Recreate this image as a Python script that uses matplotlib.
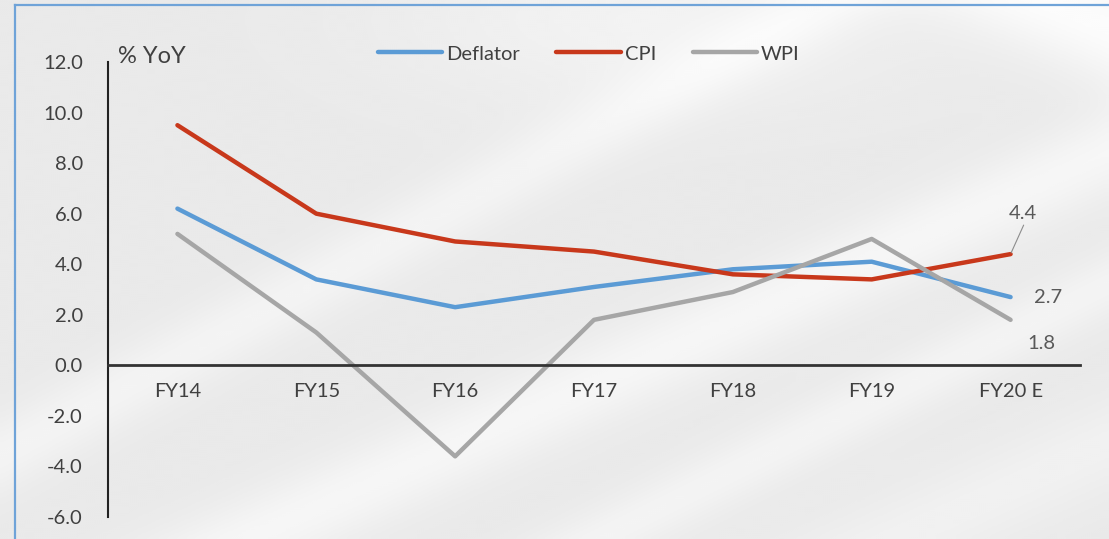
import numpy as np
import matplotlib.pyplot as plt
from matplotlib.lines import Line2D

years = ["FY14", "FY15", "FY16", "FY17", "FY18", "FY19", "FY20 E"]
deflator = [6.2, 3.4, 2.3, 3.1, 3.8, 4.1, 2.7]
cpi = [9.5, 6.0, 4.9, 4.5, 3.6, 3.4, 4.4]
wpi = [5.2, 1.3, -3.6, 1.8, 2.9, 5.0, 1.8]
yticks = [-6, -4, -2, 0, 2, 4, 6, 8, 10, 12]

plt.rcParams['font.family'] = ['Lato', 'DejaVu Sans']
TXT = '#404040'
FS = 14.5

W, H = 1109, 539
fig = plt.figure(figsize=(W / 100, H / 100), dpi=100)

# soft grey backdrop with pale diagonal sweeps
bg = fig.add_axes([0, 0, 1, 1], zorder=-10)
px, py = np.meshgrid(np.linspace(0, W, 555), np.linspace(H, 0, 270))
shade = np.full(px.shape, 0.915)
for x0, slope, width, amt in [(250, 0.45, 45, 0.05), (600, 0.5, 35, 0.04),
                              (-150, 0.55, 40, 0.04), (900, 0.45, 50, 0.03)]:
    d = py - slope * (px - x0)
    shade += amt * np.exp(-(d / width) ** 2)
for x0, slope, width, amt in [(1050, -0.45, 60, 0.07), (1350, -0.5, 70, 0.05)]:
    d = py - H - slope * (px - x0)
    shade += amt * np.exp(-(d / width) ** 2)
shade += 0.035 * np.exp(-(((px - 650) / 260) ** 2 + ((py - 520) / 90) ** 2))
shade = np.clip(shade, 0, 1)
bg.imshow(shade, cmap='gray', vmin=0, vmax=1, extent=[0, 1, 0, 1],
          aspect='auto', interpolation='bicubic')
bg.set_xlim(0, 1)
bg.set_ylim(0, 1)
bg.axis('off')

# frame edges on the left and top
fig.add_artist(Line2D([15 / W, 15 / W], [0, 1 - 5 / H],
                      transform=fig.transFigure, color='#6fa3d8', lw=1.6))
fig.add_artist(Line2D([15 / W, 1], [1 - 5 / H, 1 - 5 / H],
                      transform=fig.transFigure, color='#6fa3d8', lw=1.6))

ax = fig.add_axes([108 / W, 22 / H, 972 / W, 455 / H])
ax.patch.set_alpha(0)
x = np.arange(len(years))
ax.plot(x, deflator, color='#5b9bd5', lw=3.2, label='Deflator', solid_capstyle='round')
ax.plot(x, cpi, color='#c8381b', lw=3.2, label='CPI', solid_capstyle='round')
ax.plot(x, wpi, color='#a6a6a6', lw=3.2, label='WPI', solid_capstyle='round')

ax.set_xlim(-0.5, len(years) - 0.5)
ax.set_ylim(-6, 12)
ax.set_yticks(yticks)
ax.set_yticklabels([f"{v:.1f}" for v in yticks])
ax.set_xticks(x)
ax.set_xticklabels(years)
ax.tick_params(axis='y', length=0, pad=18, labelsize=FS, labelcolor=TXT)
ax.tick_params(axis='x', length=0, pad=13, labelsize=FS, labelcolor=TXT)

for s in ['top', 'right']:
    ax.spines[s].set_visible(False)
ax.spines['bottom'].set_position(('data', 0))
ax.spines['bottom'].set_color('#333333')
ax.spines['bottom'].set_linewidth(2)
ax.spines['left'].set_color('#222222')
ax.spines['left'].set_linewidth(1.5)

ax.text(0.01, 1.011, '% YoY', transform=ax.transAxes, fontsize=17,
        color=TXT, ha='left', va='center')

ax.legend(loc='center left', bbox_to_anchor=(0.2695, 1.0176), ncol=3,
          frameon=False, fontsize=FS, handlelength=3.2, handletextpad=0.2,
          columnspacing=1.8, borderaxespad=0, labelcolor=TXT)

lab = '#595959'
ax.annotate(f"{cpi[-1]:.1f}", xy=(x[-1], cpi[-1]), xytext=(9, 29),
            textcoords='offset points', fontsize=FS, color=lab, ha='center',
            va='center', arrowprops=dict(arrowstyle='-', color='#8c8c8c', lw=0.8,
                                         relpos=(0.7, 0.5), shrinkA=0, shrinkB=1))
ax.annotate(f"{deflator[-1]:.1f}", xy=(x[-1], deflator[-1]), xytext=(27, 0),
            textcoords='offset points', fontsize=FS, color=lab, ha='center',
            va='center')
ax.annotate(f"{wpi[-1]:.1f}", xy=(x[-1], wpi[-1]), xytext=(22, -17),
            textcoords='offset points', fontsize=FS, color=lab, ha='center',
            va='center')

fig.savefig('out.png', dpi=100)
